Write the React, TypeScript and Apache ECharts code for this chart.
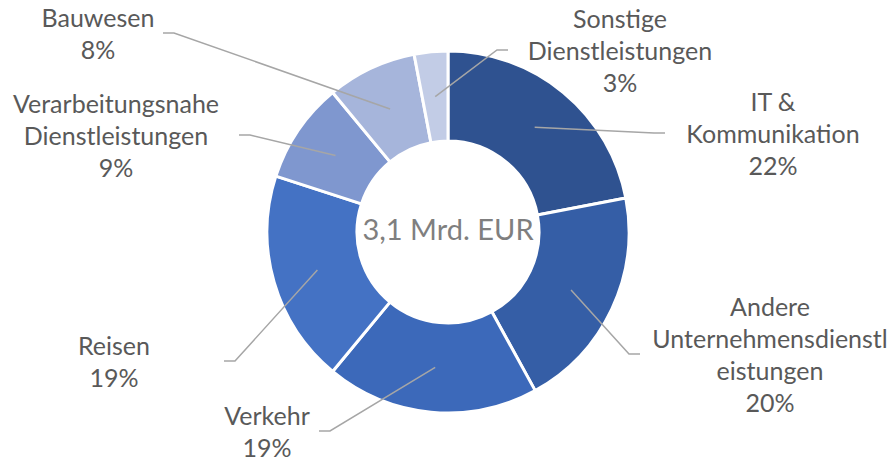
import React, { useEffect, useRef } from "react";
import * as echarts from "echarts";

const categories = [
  "IT &\nKommunikation",
  "Andere\nUnternehmensdienstl\neistungen",
  "Verkehr",
  "Reisen",
  "Verarbeitungsnahe\nDienstleistungen",
  "Bauwesen",
  "Sonstige\nDienstleistungen",
];
const values = [22, 20, 19, 19, 9, 8, 3];
const percentLabels = ["22%", "20%", "19%", "19%", "9%", "8%", "3%"];
const colors = ["#2F5290", "#355EA6", "#3C69BA", "#4472C4", "#7F97CF", "#A6B5DB", "#C2CCE6"];
const totalLabel = "3,1 Mrd. EUR";

// layout (not data)
const CX = 448;
const CY = 232;
const R0 = 91;
const R = 181;
const LINE_R = 136;
const labelPos = [
  { x: 773, y: 133, lineX: 665 },
  { x: 770, y: 354, lineX: 640 },
  { x: 267, y: 431, lineX: 319 },
  { x: 114, y: 361, lineX: 224 },
  { x: 116, y: 135, lineX: 239 },
  { x: 98, y: 33, lineX: 163 },
  { x: 620, y: 50, lineX: 508 },
];
const FONT = "Lato, 'Open Sans', sans-serif";

export default function App() {
  const ref = useRef<HTMLDivElement>(null);
  useEffect(() => {
    document.body.style.margin = "0";
    const chart = echarts.init(ref.current!, null, { renderer: "svg" });
    const total = values.reduce((a, b) => a + b, 0);
    const data = categories.map((c, i) => ({
      name: c,
      value: values[i],
      itemStyle: { color: colors[i] },
    }));
    const option: any = {
      animation: false,
      backgroundColor: "#ffffff",
      graphic: [
        {
          type: "text",
          x: CX,
          y: CY - 4,
          z: 10,
          style: {
            text: totalLabel,
            fill: "#7F7F7F",
            font: `29px ${FONT}`,
            align: "center",
            verticalAlign: "middle",
          },
        },
      ],
      series: [
        {
          type: "pie",
          z: 2,
          center: [CX, CY],
          radius: [R0, R],
          startAngle: 90,
          clockwise: true,
          silent: true,
          data,
          itemStyle: { borderColor: "#ffffff", borderWidth: 3 },
          label: { show: false },
          labelLine: { show: false },
        },
        {
          type: "pie",
          z: 3,
          center: [CX, CY],
          radius: [0, LINE_R],
          startAngle: 90,
          clockwise: true,
          silent: true,
          avoidLabelOverlap: false,
          data: categories.map((c, i) => ({
            name: c,
            value: values[i],
            itemStyle: { color: "rgba(0,0,0,0)" },
            label: { formatter: c + "\n" + percentLabels[i] },
          })),
          itemStyle: { borderWidth: 0 },
          label: {
            show: true,
            position: "outer",
            alignTo: "none",
            color: "#595959",
            fontFamily: FONT,
            fontSize: 25,
            lineHeight: 32,
            align: "center",
          },
          labelLine: {
            show: true,
            length: 20,
            length2: 10,
            lineStyle: { color: "#A6A6A6", width: 1.5 },
          },
          labelLayout: (params: any) => {
            const i = params.dataIndex;
            const L = labelPos[i];
            let sx: number, sy: number;
            const p0 = params.labelLinePoints && params.labelLinePoints[0];
            if (p0) {
              sx = p0[0];
              sy = p0[1];
            } else {
              let cum = 0;
              for (let k = 0; k < i; k++) cum += values[k];
              const a = ((cum + values[i] / 2) / total) * Math.PI * 2;
              sx = CX + Math.sin(a) * LINE_R;
              sy = CY - Math.cos(a) * LINE_R;
            }
            const elbowX = L.lineX < CX ? L.lineX + 11 : L.lineX - 11;
            return {
              x: L.x,
              y: L.y,
              align: "center",
              verticalAlign: "middle",
              labelLinePoints: [
                [sx, sy],
                [elbowX, L.y],
                [L.lineX, L.y],
              ],
            };
          },
        },
      ],
    };
    chart.setOption(option);
    return () => chart.dispose();
  }, []);
  return <div ref={ref} style={{ width: 889, height: 464 }} />;
}
